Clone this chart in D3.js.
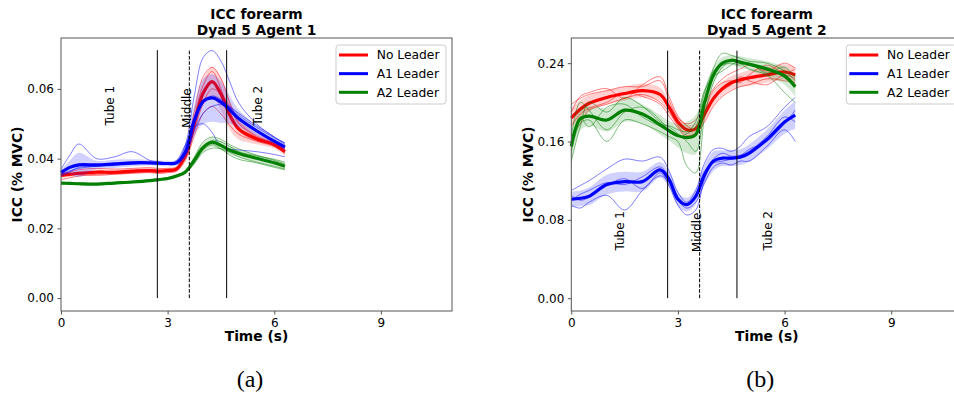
<!DOCTYPE html>
<html>
<head>
<meta charset="utf-8">
<script src="https://cdn.jsdelivr.net/npm/d3@7"></script>
<style>
body { margin: 0; background: #fff; }
svg { display: block; font-family: "DejaVu Sans", sans-serif; }
</style>
</head>
<body>
<div id="graphic"></div>
<script>
// sample times (s), shared by every curve
var time = [0, 0.25, 0.5, 1, 1.5, 2, 2.5, 2.75, 3, 3.25, 3.5, 3.75, 4, 4.25, 4.5, 4.75, 5, 5.5, 6, 6.3];

var conditions = ["No Leader", "A1 Leader", "A2 Leader"],
    colors = ["#ff0000", "#0000ff", "#008000"];

var phaseTimes = [2.71, 3.61, 4.66],
    phaseLabels = ["Tube 1", "Middle", "Tube 2"],
    xTicks = [0, 3, 6, 9];

// ---- Agent 1 ----
var a1Ticks = [0, 0.02, 0.04, 0.06];
var a1LabelPos = [[1.38, 0.0552], [3.53, 0.0545], [5.53, 0.0552]];

var a1RedMean = [0.0352, 0.0355, 0.0358, 0.0361, 0.0361, 0.0364, 0.0366, 0.0364, 0.0366, 0.0370, 0.0410, 0.0500, 0.0588, 0.0621, 0.0585, 0.0525, 0.0485, 0.0457, 0.0440, 0.0420];
var a1RedSd = [0.0008, 0.0008, 0.0008, 0.0008, 0.0008, 0.0008, 0.0008, 0.0008, 0.0008, 0.0009, 0.0012, 0.0028, 0.0038, 0.0042, 0.0048, 0.0042, 0.0030, 0.0016, 0.0012, 0.0012];
var a1RedTrials = [
    [0.0340, 0.0345, 0.0350, 0.0355, 0.0357, 0.0360, 0.0362, 0.0362, 0.0363, 0.0368, 0.0420, 0.0535, 0.0635, 0.0662, 0.0630, 0.0560, 0.0505, 0.0465, 0.0445, 0.0428],
    [0.0355, 0.0362, 0.0368, 0.0372, 0.0370, 0.0372, 0.0374, 0.0372, 0.0372, 0.0375, 0.0400, 0.0480, 0.0560, 0.0600, 0.0585, 0.0550, 0.0500, 0.0462, 0.0442, 0.0425],
    [0.0360, 0.0358, 0.0355, 0.0352, 0.0355, 0.0358, 0.0360, 0.0358, 0.0360, 0.0365, 0.0395, 0.0465, 0.0530, 0.0550, 0.0528, 0.0495, 0.0470, 0.0450, 0.0435, 0.0415],
    [0.0350, 0.0352, 0.0356, 0.0365, 0.0362, 0.0366, 0.0368, 0.0366, 0.0369, 0.0372, 0.0425, 0.0520, 0.0610, 0.0650, 0.0600, 0.0530, 0.0480, 0.0452, 0.0440, 0.0418]
];

var a1BlueMean = [0.0360, 0.0375, 0.0382, 0.0382, 0.0385, 0.0388, 0.0388, 0.0387, 0.0386, 0.0388, 0.0420, 0.0510, 0.0564, 0.0574, 0.0562, 0.0540, 0.0515, 0.0480, 0.0450, 0.0433];
var a1BlueSd = [0.0008, 0.0020, 0.0035, 0.0012, 0.0012, 0.0010, 0.0008, 0.0008, 0.0008, 0.0008, 0.0020, 0.0045, 0.0065, 0.0068, 0.0060, 0.0040, 0.0025, 0.0015, 0.0010, 0.0010];
var a1BlueTrials = [
    [0.0370, 0.0410, 0.0442, 0.0400, 0.0405, 0.0420, 0.0395, 0.0390, 0.0388, 0.0390, 0.0440, 0.0580, 0.0690, 0.0710, 0.0680, 0.0620, 0.0560, 0.0500, 0.0462, 0.0445],
    [0.0355, 0.0365, 0.0372, 0.0378, 0.0382, 0.0385, 0.0386, 0.0385, 0.0385, 0.0395, 0.0440, 0.0490, 0.0500, 0.0475, 0.0435, 0.0428, 0.0425, 0.0420, 0.0412, 0.0405],
    [0.0350, 0.0362, 0.0375, 0.0378, 0.0380, 0.0384, 0.0387, 0.0386, 0.0386, 0.0387, 0.0415, 0.0500, 0.0560, 0.0580, 0.0570, 0.0550, 0.0525, 0.0490, 0.0460, 0.0445],
    [0.0365, 0.0375, 0.0380, 0.0380, 0.0383, 0.0386, 0.0387, 0.0388, 0.0388, 0.0390, 0.0410, 0.0480, 0.0530, 0.0550, 0.0555, 0.0548, 0.0530, 0.0495, 0.0462, 0.0440]
];

var a1GreenMean = [0.0330, 0.0329, 0.0328, 0.0327, 0.0330, 0.0333, 0.0337, 0.0340, 0.0343, 0.0350, 0.0362, 0.0395, 0.0432, 0.0447, 0.0438, 0.0424, 0.0415, 0.0401, 0.0388, 0.0378];
var a1GreenSd = [0.0004, 0.0004, 0.0004, 0.0004, 0.0004, 0.0004, 0.0004, 0.0004, 0.0004, 0.0005, 0.0006, 0.0009, 0.0012, 0.0013, 0.0013, 0.0012, 0.0011, 0.0010, 0.0010, 0.0010];
var a1GreenTrials = [
    [0.0328, 0.0328, 0.0327, 0.0327, 0.0329, 0.0332, 0.0336, 0.0339, 0.0342, 0.0350, 0.0365, 0.0405, 0.0448, 0.0462, 0.0455, 0.0440, 0.0428, 0.0410, 0.0395, 0.0385],
    [0.0332, 0.0331, 0.0330, 0.0328, 0.0331, 0.0334, 0.0338, 0.0341, 0.0345, 0.0352, 0.0360, 0.0385, 0.0418, 0.0430, 0.0428, 0.0418, 0.0405, 0.0390, 0.0378, 0.0370],
    [0.0330, 0.0330, 0.0329, 0.0327, 0.0330, 0.0333, 0.0337, 0.0340, 0.0343, 0.0351, 0.0363, 0.0398, 0.0435, 0.0452, 0.0448, 0.0435, 0.0420, 0.0408, 0.0398, 0.0390],
    [0.0329, 0.0328, 0.0327, 0.0326, 0.0329, 0.0332, 0.0336, 0.0339, 0.0342, 0.0348, 0.0360, 0.0390, 0.0425, 0.0440, 0.0428, 0.0410, 0.0398, 0.0388, 0.0375, 0.0368]
];

// ---- Agent 2 ----
var a2Ticks = [0, 0.08, 0.16, 0.24];
var a2LabelPos = [[1.36, 0.0688], [3.54, 0.0672], [5.53, 0.0688]];

var a2RedMean = [0.184, 0.193, 0.199, 0.205, 0.209, 0.212, 0.208, 0.195, 0.180, 0.172, 0.173, 0.188, 0.204, 0.214, 0.220, 0.223, 0.225, 0.228, 0.231, 0.228];
var a2RedSd = [0.010, 0.009, 0.008, 0.007, 0.007, 0.007, 0.007, 0.006, 0.005, 0.005, 0.006, 0.007, 0.007, 0.007, 0.007, 0.007, 0.008, 0.008, 0.008, 0.008];
var a2RedTrials = [
    [0.198, 0.204, 0.208, 0.212, 0.216, 0.216, 0.222, 0.202, 0.184, 0.178, 0.182, 0.198, 0.214, 0.224, 0.230, 0.234, 0.238, 0.232, 0.240, 0.235],
    [0.166, 0.178, 0.192, 0.198, 0.204, 0.208, 0.200, 0.190, 0.176, 0.166, 0.168, 0.180, 0.196, 0.206, 0.212, 0.216, 0.218, 0.224, 0.222, 0.220],
    [0.190, 0.206, 0.210, 0.214, 0.204, 0.218, 0.226, 0.206, 0.186, 0.176, 0.172, 0.192, 0.212, 0.220, 0.222, 0.220, 0.228, 0.238, 0.230, 0.234],
    [0.176, 0.188, 0.194, 0.200, 0.210, 0.206, 0.198, 0.186, 0.174, 0.164, 0.166, 0.186, 0.202, 0.212, 0.218, 0.226, 0.222, 0.218, 0.228, 0.224]
];

var a2BlueMean = [0.101, 0.102, 0.104, 0.116, 0.119, 0.119, 0.131, 0.121, 0.101, 0.0955, 0.104, 0.126, 0.140, 0.143, 0.143, 0.144, 0.148, 0.162, 0.180, 0.187];
var a2BlueSd = [0.008, 0.008, 0.009, 0.010, 0.010, 0.010, 0.008, 0.008, 0.007, 0.007, 0.008, 0.010, 0.010, 0.008, 0.008, 0.008, 0.009, 0.010, 0.012, 0.014];
var a2BlueTrials = [
    [0.110, 0.115, 0.120, 0.132, 0.142, 0.140, 0.144, 0.130, 0.108, 0.098, 0.110, 0.138, 0.152, 0.153, 0.150, 0.155, 0.165, 0.175, 0.195, 0.205],
    [0.095, 0.092, 0.098, 0.105, 0.090, 0.110, 0.125, 0.118, 0.100, 0.092, 0.098, 0.118, 0.134, 0.138, 0.136, 0.140, 0.140, 0.155, 0.172, 0.160],
    [0.105, 0.100, 0.103, 0.115, 0.122, 0.112, 0.128, 0.115, 0.095, 0.085, 0.090, 0.122, 0.142, 0.148, 0.145, 0.146, 0.150, 0.165, 0.185, 0.180],
    [0.100, 0.106, 0.110, 0.118, 0.116, 0.124, 0.134, 0.124, 0.104, 0.096, 0.106, 0.130, 0.138, 0.140, 0.142, 0.145, 0.152, 0.160, 0.178, 0.192]
];

var a2GreenMean = [0.155, 0.183, 0.186, 0.182, 0.192, 0.188, 0.177, 0.171, 0.166, 0.164, 0.167, 0.200, 0.228, 0.240, 0.243, 0.241, 0.239, 0.234, 0.227, 0.216];
var a2GreenSd = [0.015, 0.012, 0.010, 0.012, 0.012, 0.010, 0.010, 0.010, 0.012, 0.016, 0.020, 0.015, 0.008, 0.006, 0.005, 0.006, 0.006, 0.008, 0.009, 0.010];
var a2GreenTrials = [
    [0.140, 0.175, 0.200, 0.190, 0.205, 0.196, 0.180, 0.175, 0.168, 0.160, 0.150, 0.195, 0.235, 0.250, 0.248, 0.245, 0.242, 0.240, 0.232, 0.222],
    [0.165, 0.200, 0.192, 0.172, 0.190, 0.195, 0.182, 0.170, 0.165, 0.168, 0.175, 0.210, 0.232, 0.238, 0.240, 0.238, 0.240, 0.230, 0.236, 0.226],
    [0.150, 0.178, 0.182, 0.160, 0.182, 0.178, 0.170, 0.165, 0.160, 0.135, 0.128, 0.185, 0.220, 0.236, 0.242, 0.240, 0.234, 0.228, 0.210, 0.200],
    [0.160, 0.185, 0.175, 0.195, 0.198, 0.185, 0.176, 0.176, 0.172, 0.170, 0.180, 0.212, 0.226, 0.232, 0.238, 0.242, 0.238, 0.236, 0.225, 0.215]
];

var width = 954,
    height = 397,
    axTop = 38,
    axBottom = 311,
    axWidth = 391;

var panels = [
    {
        left: 61, title: "Dyad 5 Agent 1", caption: "(a)",
        yDomain: [-0.0037, 0.0746], lineTop: 0.0711, ticks: a1Ticks, labelPos: a1LabelPos,
        means: [a1RedMean, a1BlueMean, a1GreenMean],
        sds: [a1RedSd, a1BlueSd, a1GreenSd],
        trials: [a1RedTrials, a1BlueTrials, a1GreenTrials]
    },
    {
        left: 571.3, title: "Dyad 5 Agent 2", caption: "(b)",
        yDomain: [-0.0131, 0.2657], lineTop: 0.2528, ticks: a2Ticks, labelPos: a2LabelPos,
        means: [a2RedMean, a2BlueMean, a2GreenMean],
        sds: [a2RedSd, a2BlueSd, a2GreenSd],
        trials: [a2RedTrials, a2BlueTrials, a2GreenTrials]
    }
];

function drawPanel(svg, p) {

    var x = d3.scaleLinear().domain([0, 11]).range([p.left, p.left + axWidth]),
        y = d3.scaleLinear().domain(p.yDomain).range([axBottom, axTop]);

    var curve = d3.curveCatmullRom.alpha(0.5);

    var line = d3.line()
        .x(function (d, i) { return x(time[i]); })
        .y(function (d) { return y(d); })
        .curve(curve);

    var g = svg.append("g");

    // trials, +/- sd band and mean for each condition
    conditions.forEach(function (c, k) {
        var mean = p.means[k], sd = p.sds[k];

        g.selectAll(null)
            .data(p.trials[k])
            .enter().append("path")
            .attr("d", line)
            .attr("fill", "none")
            .attr("stroke", colors[k])
            .attr("stroke-opacity", 0.5)
            .attr("stroke-width", 1);

        var area = d3.area()
            .x(function (d, i) { return x(time[i]); })
            .y0(function (d, i) { return y(d - sd[i]); })
            .y1(function (d, i) { return y(d + sd[i]); })
            .curve(curve);

        g.append("path")
            .datum(mean)
            .attr("d", area)
            .attr("fill", colors[k])
            .attr("fill-opacity", 0.18);

        g.append("path")
            .datum(mean)
            .attr("d", line)
            .attr("fill", "none")
            .attr("stroke", colors[k])
            .attr("stroke-width", 3.2);
    });

    // phase boundaries
    phaseTimes.forEach(function (t, i) {
        g.append("line")
            .attr("x1", x(t)).attr("x2", x(t))
            .attr("y1", y(0)).attr("y2", y(p.lineTop))
            .attr("stroke", "#000")
            .attr("stroke-width", 1)
            .attr("stroke-dasharray", i == 1 ? "3.7,1.6" : null);
    });

    phaseLabels.forEach(function (label, i) {
        var pos = p.labelPos[i];
        g.append("text")
            .attr("transform", "translate(" + x(pos[0]) + "," + y(pos[1]) + ") rotate(-90)")
            .attr("text-anchor", "middle")
            .attr("dy", "0.35em")
            .attr("font-size", 12)
            .text(label);
    });

    // frame
    g.append("rect")
        .attr("x", p.left).attr("y", axTop)
        .attr("width", axWidth).attr("height", axBottom - axTop)
        .attr("fill", "none")
        .attr("stroke", "#555")
        .attr("stroke-width", 1);

    var xAxis = g.append("g")
        .attr("transform", "translate(0," + axBottom + ")")
        .call(d3.axisBottom(x).tickValues(xTicks).tickSize(3.5).tickPadding(3.5).tickFormat(d3.format("d")));

    var yAxis = g.append("g")
        .attr("transform", "translate(" + p.left + ",0)")
        .call(d3.axisLeft(y).tickValues(p.ticks).tickSize(3.5).tickPadding(3.5).tickFormat(d3.format(".2f")));

    [xAxis, yAxis].forEach(function (a) {
        a.select(".domain").remove();
        a.selectAll("line").attr("stroke", "#555");
        a.selectAll("text").attr("font-size", 12).attr("font-family", "DejaVu Sans").attr("fill", "#000");
    });

    var cx = p.left + axWidth / 2;

    g.append("text")
        .attr("x", cx).attr("y", 18.5)
        .attr("text-anchor", "middle")
        .attr("font-size", 13.8).attr("font-weight", "bold")
        .text("ICC forearm");

    g.append("text")
        .attr("x", cx).attr("y", 34.5)
        .attr("text-anchor", "middle")
        .attr("font-size", 13.8).attr("font-weight", "bold")
        .text(p.title);

    g.append("text")
        .attr("x", cx).attr("y", 341)
        .attr("text-anchor", "middle")
        .attr("font-size", 13.8).attr("font-weight", "bold")
        .text("Time (s)");

    g.append("text")
        .attr("transform", "translate(" + (p.left - 43.5) + "," + ((axTop + axBottom) / 2) + ") rotate(-90)")
        .attr("text-anchor", "middle")
        .attr("dy", "0.35em")
        .attr("font-size", 13.8).attr("font-weight", "bold")
        .text("ICC (% MVC)");

    g.append("text")
        .attr("x", cx - 6.5).attr("y", 387)
        .attr("text-anchor", "middle")
        .attr("font-family", "Liberation Serif, DejaVu Serif, serif")
        .attr("font-size", 24)
        .text(p.caption);

    // legend
    var lg = g.append("g").attr("transform", "translate(" + (p.left + 275) + ",45)");

    lg.append("rect")
        .attr("width", 110).attr("height", 59).attr("rx", 3)
        .attr("fill", "#fff").attr("fill-opacity", 0.8)
        .attr("stroke", "#ccc").attr("stroke-width", 1);

    conditions.forEach(function (c, k) {
        var ly = 10 + k * 18.65;
        lg.append("line")
            .attr("x1", 3).attr("x2", 32)
            .attr("y1", ly).attr("y2", ly)
            .attr("stroke", colors[k]).attr("stroke-width", 3);
        lg.append("text")
            .attr("x", 40.7).attr("y", ly)
            .attr("dy", "0.36em")
            .attr("font-size", 12.3)
            .text(c);
    });
}

var svg = d3.select("#graphic").append("svg")
    .attr("width", width)
    .attr("height", height);

panels.forEach(function (p) {
    drawPanel(svg, p);
});
</script>
</body>
</html>
